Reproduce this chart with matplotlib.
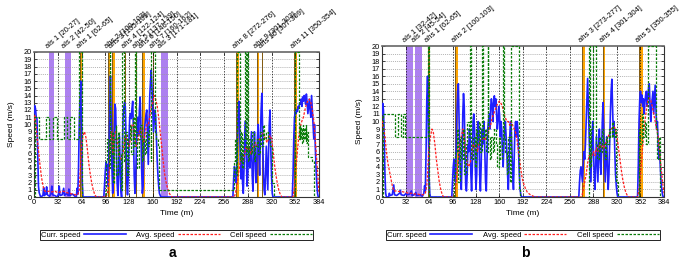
import matplotlib
matplotlib.use("Agg")
import matplotlib.pyplot as plt

plt.rcParams["font.family"] = ["Liberation Sans", "DejaVu Sans"]

# ---- panel a data (time in minutes, speed in m/s) ----
a_curr = [(0, 11.5), (1, 12.6), (2, 12.2), (3, 11), (4, 10.8), (5, 6), (6, 1.5), (7, 0.6), (9, 0),
          (12, 0.2), (13, 1.3), (14, 0.2), (16, 0.4), (17, 1.4), (18, 0.3), (21, 0.1), (23, 0.5),
          (24, 1.5), (25, 0.3), (28, 0.2), (31, 0), (33, 0.4), (34, 1.5), (35, 0.2), (38, 0.3),
          (40, 1.2), (41, 0.2), (44, 0.5), (46, 0.2), (47, 1.1), (48, 0.2), (52, 0.4), (55, 0.1),
          (57, 0), (58, 1.2), (59, 0.4), (60, 4), (61, 10), (62, 13.5), (63, 16), (64, 9), (65, 2),
          (66, 0), (94, 0), (95, 1.5), (96, 3.5), (97, 4.8), (98, 3.8), (99, 4.5), (100, 1.5),
          (101, 6), (102, 12), (103, 16.7), (104, 11), (105, 4), (106, 0.5), (107, 3), (108, 9),
          (109, 12.8), (110, 12.2), (111, 7), (112, 2), (113, 0.2), (114, 3), (115, 8.5), (116, 5),
          (117, 1), (118, 0), (119, 6), (120, 11), (121, 12.3), (122, 13), (123, 12.5), (124, 8),
          (125, 2), (126, 0.3), (127, 3), (128, 8), (129, 11), (130, 11.5), (131, 10.8), (132, 12.2),
          (133, 13.2), (134, 9), (135, 3), (136, 0.5), (137, 2.5), (138, 7), (139, 10), (140, 11),
          (141, 8.5), (142, 12), (143, 13.8), (144, 10), (145, 4), (146, 0.5), (147, 1.5), (148, 6),
          (149, 9.5), (150, 10.5), (151, 11.5), (152, 12), (153, 8), (154, 4.5), (155, 10), (156, 14),
          (157, 16), (158, 17.5), (159, 15), (160, 12), (161, 9), (162, 10.5), (163, 12), (164, 11),
          (165, 8), (166, 5), (167, 3), (168, 1.5), (169, 0.5), (171, 0), (268, 0), (269, 2.5),
          (270, 4.2), (271, 3.8), (272, 2), (273, 3), (274, 7), (275, 11), (276, 13.2), (277, 10),
          (278, 5), (279, 2.5), (280, 6), (281, 2), (282, 0.5), (283, 4), (284, 8.5), (285, 10.5),
          (286, 6), (287, 1.5), (288, 3), (289, 7), (290, 5), (291, 4), (292, 6.5), (293, 9),
          (294, 3), (295, 0.8), (296, 5), (297, 9), (298, 6), (299, 2), (300, 4), (301, 8), (302, 10),
          (303, 6), (304, 3), (305, 8), (306, 12), (307, 14.3), (308, 9), (309, 4), (310, 1),
          (311, 0.3), (312, 3), (313, 7), (314, 4), (315, 1), (316, 6), (317, 10), (318, 12),
          (319, 7), (320, 3), (321, 0.5), (322, 0), (348, 0), (349, 3), (350, 8), (351, 11),
          (352, 11.7), (353, 11.5), (354, 12), (355, 11.8), (356, 12.5), (357, 12.2), (358, 13),
          (359, 12.8), (360, 13.5), (361, 12.5), (362, 13.8), (363, 13.2), (364, 14), (365, 13.5),
          (366, 12.8), (367, 14.2), (368, 13), (369, 11.5), (370, 12.5), (371, 13.5), (372, 12),
          (373, 11), (374, 14), (375, 12), (376, 10), (377, 8), (378, 10), (379, 7), (380, 4),
          (381, 2), (382, 0.5), (383, 0), (384, 0)]

a_avg = [(0, 10.5), (1, 11.2), (2, 10.5), (3, 9.5), (4, 8.5), (6, 6.5), (8, 4.5), (10, 2.8),
         (12, 1.6), (14, 0.9), (16, 0.7), (20, 0.8), (24, 0.7), (28, 0.8), (32, 0.6), (36, 0.7),
         (40, 0.8), (44, 0.6), (48, 0.5), (52, 0.4), (56, 0.3), (59, 0.3), (61, 1), (62, 3), (63, 5),
         (64, 7), (66, 8.5), (68, 9), (70, 8.2), (72, 6.5), (74, 4.5), (76, 3), (78, 1.8), (80, 0.9),
         (82, 0.3), (84, 0), (97, 0), (99, 0.5), (100, 1.5), (101, 3), (102, 5), (103, 8), (104, 9),
         (105, 7), (106, 6), (107, 7), (108, 8.5), (110, 9), (112, 8), (114, 6), (116, 5.5),
         (118, 5), (120, 6), (122, 8), (124, 8.5), (126, 7.5), (128, 7), (130, 8), (132, 10),
         (134, 10), (136, 8), (138, 7), (140, 7.5), (142, 9), (144, 9.5), (146, 8), (148, 7.5),
         (150, 9), (152, 10), (154, 10), (156, 11), (158, 12.5), (160, 13), (162, 14), (164, 13.5),
         (166, 12.5), (168, 11), (170, 9), (172, 7), (174, 5), (176, 3.2), (178, 2), (180, 1.2),
         (182, 0.6), (184, 0.2), (186, 0), (270, 0), (272, 0.8), (274, 2), (276, 3.5), (278, 5),
         (280, 5.5), (282, 5), (284, 6), (286, 7), (288, 6.5), (290, 7), (292, 6), (294, 6.5),
         (296, 7), (298, 7.5), (300, 7), (302, 7.5), (304, 8), (306, 8.5), (308, 8.8), (310, 8.5),
         (312, 8), (314, 7.5), (316, 8), (318, 8.5), (320, 8), (322, 6.5), (324, 4.5), (326, 3),
         (328, 1.8), (330, 0.9), (332, 0.3), (334, 0), (349, 0), (351, 1.5), (353, 4), (355, 6.5),
         (357, 8.5), (359, 9.8), (361, 10.5), (363, 11), (365, 12), (367, 12.8), (369, 13.3),
         (371, 13.5), (373, 13), (375, 12), (377, 10.5), (379, 8), (381, 5), (383, 2), (384, 0.5)]

a_cell = [(0, 0), (1, 11), (7, 8), (16, 11), (20, 8), (26, 11), (31, 8), (40, 11), (44, 8), (48, 11),
          (54, 8), (61, 20), (64, 0), (96, 0), (97, 5), (99, 8), (101, 4), (102, 20), (103, 6),
          (105, 9), (107, 2), (108, 8), (110, 10), (111, 3), (113, 9), (115, 6), (117, 1), (119, 20),
          (121, 5), (123, 9), (125, 3), (127, 8), (129, 10), (131, 6), (133, 11), (135, 7), (136, 20),
          (137, 9), (139, 4), (141, 8), (143, 10), (145, 5), (147, 8), (149, 6), (151, 9), (153, 7),
          (155, 10), (157, 5), (158, 20), (163, 9), (165, 8), (167, 7), (168, 1), (268, 1), (270, 5),
          (271, 8), (272, 3), (274, 20), (277, 5), (279, 9), (280, 4), (282, 8), (284, 20), (285, 6),
          (287, 20), (288, 5), (290, 8), (292, 6), (294, 9), (296, 5), (298, 7), (300, 8), (302, 6),
          (304, 9), (306, 7), (308, 10), (310, 8), (312, 9), (315, 8), (318, 7), (321, 2), (323, 0),
          (351, 0), (352, 20), (357, 8), (358, 10), (359, 8), (360, 9.5), (361, 7.5), (362, 10),
          (363, 8), (364, 9.5), (365, 8), (366, 10), (367, 7.5), (368, 9), (369, 5.5), (375, 5),
          (377, 0), (384, 0)]

a_als = [(20, 27, "als 1 [20-27]"), (42, 50, "als 2 [42-50]"), (171, 181, "als 3 [171-181]")]
a_ahs = [(62, 65, "ahs 1 [62-65]"), (100, 103, "ahs 2 [100-103]"), (105, 109, "ahs 3 [105-109]"),
         (122, 124, "ahs 4 [122-124]"), (137, 139, "ahs 5 [137-139]"), (146, 150, "ahs 6 [146-150]"),
         (160, 162, "ahs 7 [160-162]"), (272, 276, "ahs 8 [272-276]"), (301, 303, "ahs 9 [301-303]"),
         (307, 309, "ahs 10 [307-309]"), (350, 354, "ahs 11 [350-354]")]

# ---- panel b data ----
b_curr = [(0, 11), (1, 12.4), (2, 11.5), (3, 8), (4, 3), (5, 0.5), (6, 0), (9, 0), (10, 0.5),
          (11, 0.2), (14, 0.3), (15, 1), (16, 1.6), (17, 0.3), (20, 0.2), (24, 0.5), (25, 0.9),
          (26, 0.3), (30, 0.2), (33, 0.5), (34, 0.3), (38, 0.4), (40, 0.8), (41, 0.2), (44, 0.3),
          (46, 0.6), (47, 0.2), (52, 0.3), (55, 0.1), (57, 0.5), (58, 1.5), (59, 0.8), (60, 6),
          (61, 13), (62, 16), (63, 11), (64, 3), (65, 0.5), (66, 0), (95, 0), (96, 2), (97, 4),
          (98, 5), (99, 3), (100, 2), (101, 6), (102, 11), (103, 14), (104, 15), (105, 10), (106, 5),
          (107, 2.5), (108, 1), (109, 5), (110, 11), (111, 13.7), (112, 12), (113, 6), (114, 1.5),
          (115, 0.8), (116, 3), (117, 7), (118, 6), (119, 9), (120, 8), (121, 3), (122, 0.8),
          (123, 4), (124, 10), (125, 11), (126, 9), (127, 4), (128, 1), (129, 3), (130, 8), (131, 10),
          (132, 9), (133, 3), (134, 0.8), (135, 4), (136, 9), (137, 7), (138, 9), (139, 10), (140, 6),
          (141, 2), (142, 0.8), (143, 5), (144, 9), (145, 10), (146, 11), (147, 9), (148, 12),
          (149, 13), (150, 12), (151, 10), (152, 12.5), (153, 13.4), (154, 12), (155, 13), (156, 11),
          (157, 9), (158, 10), (159, 12), (160, 11), (161, 8), (162, 10), (163, 9), (164, 6),
          (165, 4), (166, 7), (167, 9), (168, 10), (169, 8), (170, 6), (171, 3), (172, 1), (173, 4),
          (174, 8), (175, 10), (176, 9), (177, 6), (178, 3), (179, 1), (180, 5), (181, 9), (182, 10),
          (183, 8), (184, 10), (185, 9), (186, 6), (187, 3), (188, 1), (189, 0.3), (190, 0),
          (268, 0), (269, 2), (270, 3.5), (271, 4), (272, 3), (273, 2), (274, 4), (275, 6), (276, 5),
          (277, 7), (278, 10), (279, 13), (280, 15.7), (281, 12), (282, 8), (283, 5), (284, 2),
          (285, 4), (286, 8), (287, 10), (288, 6), (289, 3), (290, 1), (291, 4), (292, 8), (293, 5),
          (294, 2), (295, 6), (296, 9), (297, 5), (298, 3), (299, 6), (300, 10), (301, 12.5),
          (302, 9), (303, 5), (304, 2), (305, 5), (306, 8), (307, 4), (308, 1), (309, 3), (310, 7),
          (311, 11), (312, 14), (313, 15.6), (314, 12), (315, 8), (316, 10), (317, 6), (318, 3),
          (319, 1.5), (320, 0.5), (321, 0), (348, 0), (349, 4), (350, 10), (351, 13), (352, 14),
          (353, 12.5), (354, 13.5), (355, 12), (356, 13), (357, 11), (358, 12.5), (359, 13.5),
          (360, 14), (361, 12), (362, 13), (363, 14.5), (364, 15), (365, 12), (366, 10), (367, 12),
          (368, 13), (369, 14), (370, 11), (371, 13), (372, 14.8), (373, 12), (374, 9), (375, 10),
          (376, 7), (377, 5), (378, 6), (379, 4), (380, 2), (381, 1), (382, 0.3), (383, 0), (384, 0)]

b_avg = [(0, 9.3), (1, 10), (2, 9.5), (4, 8), (6, 6), (8, 4.5), (10, 3.5), (12, 2.5), (14, 1.5),
         (16, 0.8), (20, 0.8), (24, 0.7), (28, 0.7), (32, 0.6), (36, 0.5), (40, 0.5), (44, 0.4),
         (48, 0.4), (52, 0.3), (56, 0.3), (59, 0.5), (61, 1.5), (62, 3), (63, 5), (64, 6.5), (66, 8),
         (68, 9), (70, 8.5), (72, 7), (74, 5), (76, 3.5), (78, 2), (80, 1), (82, 0.3), (84, 0),
         (98, 0), (100, 1), (102, 3), (104, 5), (106, 7), (108, 8), (110, 9), (112, 8), (114, 6),
         (116, 4.5), (118, 4), (120, 4.5), (122, 5.5), (124, 7), (126, 6.5), (128, 7), (130, 6),
         (132, 7), (134, 7.5), (136, 7.5), (138, 8), (140, 7.5), (142, 8), (144, 8.5), (146, 9),
         (148, 9.5), (150, 10.5), (152, 11), (154, 11.5), (156, 12), (158, 12.5), (160, 12.7),
         (162, 12.4), (164, 12), (166, 11), (168, 10.5), (170, 10), (172, 10), (174, 9.5), (176, 10),
         (178, 9.5), (180, 9), (182, 8.5), (184, 7.5), (186, 6), (188, 4.5), (190, 3), (192, 2),
         (195, 1.2), (198, 0.6), (202, 0.3), (206, 0.1), (210, 0), (272, 0), (274, 1), (276, 2),
         (278, 3), (280, 4.5), (282, 5.5), (284, 5), (286, 5.5), (288, 6), (290, 5.5), (292, 6.5),
         (294, 6), (296, 7), (298, 6.5), (300, 7), (302, 6.5), (304, 7), (306, 7.5), (308, 8),
         (310, 8.5), (312, 9), (314, 9.2), (316, 9.3), (318, 9), (320, 8), (322, 6.5), (324, 5),
         (326, 3.5), (328, 2.2), (330, 1.3), (332, 0.6), (334, 0.2), (336, 0), (348, 0), (350, 1),
         (352, 3), (354, 5.5), (356, 8), (358, 10), (360, 11.5), (362, 12.8), (364, 13.1),
         (366, 12.8), (368, 12), (370, 11), (372, 10), (374, 9), (376, 8), (378, 6), (380, 4),
         (382, 2), (384, 0.5)]

b_cell = [(0, 0), (1, 11), (18, 8), (22, 11), (26, 8), (28, 11), (31, 8), (62, 20), (64, 0), (97, 0),
          (98, 3), (100, 6), (102, 9), (104, 2), (106, 8), (108, 5), (110, 9), (112, 3), (114, 7),
          (116, 10), (118, 8), (120, 20), (121, 5), (124, 8), (126, 4), (128, 9), (130, 7), (132, 10),
          (134, 6), (136, 20), (137, 8), (140, 9), (142, 6), (144, 20), (145, 8), (147, 5), (149, 8),
          (151, 6), (153, 9), (155, 7), (157, 4), (159, 8), (161, 5), (163, 7), (165, 20), (166, 8),
          (168, 6), (170, 3), (172, 8), (174, 2), (176, 20), (186, 1), (188, 0), (280, 0), (282, 20),
          (283, 4), (285, 9), (287, 20), (291, 7), (293, 5), (295, 8), (297, 6), (299, 9), (301, 7),
          (303, 5), (305, 8), (307, 7), (309, 9), (311, 8), (313, 10), (315, 8), (317, 9), (319, 2),
          (321, 0), (349, 0), (350, 9), (352, 7), (354, 11), (356, 8), (358, 10), (360, 7), (362, 20),
          (373, 9), (375, 5), (377, 8), (379, 0), (384, 0)]

b_als = [(32, 42, "als 1 [32-42]"), (45, 54, "als 2 [45-54]")]
b_ahs = [(62, 65, "ahs 1 [62-65]"), (100, 103, "ahs 2 [100-103]"), (273, 277, "ahs 3 [273-277]"),
         (301, 304, "ahs 4 [301-304]"), (350, 355, "ahs 5 [350-355]")]

xticks = list(range(0, 385, 32))
yticks = list(range(0, 21))

W, H = 685, 259
fig = plt.figure(figsize=(W / 100, H / 100), dpi=100)

BLUE = "#1f1fff"
RED = "#ff2020"
GREEN = "#0b7d0b"
ORANGE = "#ffa500"
PURPLE = "#ad80f0"


def px(x0, y0, x1, y1):
    return [x0 / W, 1 - y1 / H, (x1 - x0) / W, (y1 - y0) / H]


def draw_panel(rect, curr, avg, cell, als, ahs, legend_px, letter_px, letter):
    ax = fig.add_axes(rect)
    for s, e, lab in als:
        ax.axvspan(s, e, color=PURPLE, lw=0, zorder=0.3)
    for s, e, lab in ahs:
        ax.axvspan(s, e, color=ORANGE, lw=0, zorder=0.3)
    for y in yticks[1:-1]:
        ax.axhline(y, color="#999999", lw=0.5, ls=(0, (1.5, 1.5)), zorder=0.5)
    for x in xticks[1:-1]:
        ax.axvline(x, color="black", lw=0.5, ls=(0, (2, 2)), zorder=0.5)
    for s, e, lab in ahs:
        ax.axvline(s, color="#222222", lw=0.4, zorder=0.6)
    for s, e, lab in als + ahs:
        ax.text(s, 20.25, lab, rotation=40, rotation_mode="anchor", ha="left", va="bottom",
                fontsize=5.5, clip_on=False)

    t, v = zip(*curr)
    ax.plot(t, v, color=BLUE, lw=1.2, zorder=3, label="Curr. speed")
    t, v = zip(*avg)
    ax.plot(t, v, color=RED, lw=0.9, ls=(0, (2, 1.2)), zorder=3, label="Avg. speed")
    t, v = zip(*cell)
    ax.plot(t, v, color=GREEN, lw=0.9, ls=(0, (2, 1.2)), drawstyle="steps-post", zorder=3,
            label="Cell speed")

    ax.set_xlim(0, 384)
    ax.set_ylim(0, 20)
    ax.set_xticks(xticks)
    ax.set_yticks(yticks)
    ax.tick_params(direction="in", length=2, width=0.5, labelsize=5.3, pad=1.5,
                   top=True, right=True)
    for sp in ax.spines.values():
        sp.set_linewidth(0.8)
        sp.set_color("#333333")
    ax.spines["top"].set_linewidth(1.2)
    ax.spines["top"].set_color("#666666")
    ax.set_xlabel("Time (m)", fontsize=6, labelpad=3)
    ax.set_ylabel("Speed (m/s)", fontsize=6, labelpad=6)

    lx0, ly0, lx1, ly1 = legend_px
    leg = ax.legend(loc="center", bbox_to_anchor=(lx0 / W, 1 - ly1 / H, (lx1 - lx0) / W, (ly1 - ly0) / H),
                    bbox_transform=fig.transFigure, mode="expand", ncol=3, markerfirst=False,
                    fontsize=5.5, handlelength=5.5, handletextpad=0.4, borderpad=0.15,
                    borderaxespad=0, fancybox=False, framealpha=1, edgecolor="black")
    leg.get_frame().set_linewidth(0.6)
    fig.text(letter_px[0] / W, 1 - letter_px[1] / H, letter, ha="center", va="center",
             fontsize=10, fontweight="bold")
    return ax


draw_panel(px(34, 52, 319, 197), a_curr, a_avg, a_cell, a_als, a_ahs,
           (40, 231, 313, 239), (172, 253), "a")
draw_panel(px(382, 46, 664, 197), b_curr, b_avg, b_cell, b_als, b_ahs,
           (386, 231, 660, 239), (525, 253), "b")

fig.savefig("out.png", dpi=100)
